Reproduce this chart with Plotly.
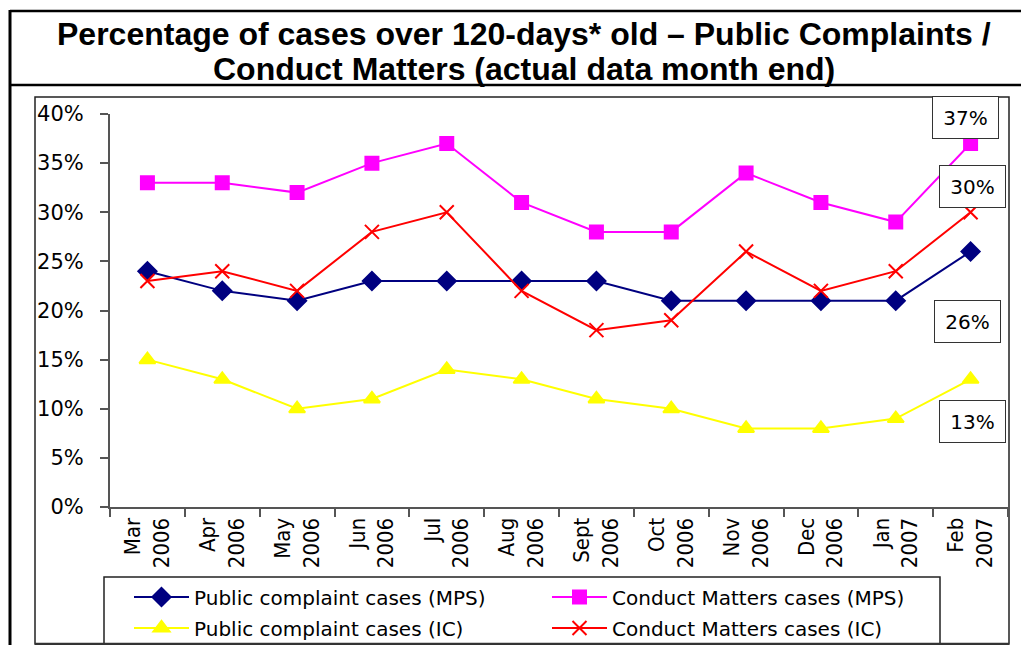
import plotly.graph_objects as go

months = ['Mar<br>2006', 'Apr<br>2006', 'May<br>2006', 'Jun<br>2006', 'Jul<br>2006', 'Aug<br>2006',
          'Sept<br>2006', 'Oct<br>2006', 'Nov<br>2006', 'Dec<br>2006', 'Jan<br>2007', 'Feb<br>2007']

pc_mps = [24, 22, 21, 23, 23, 23, 23, 21, 21, 21, 21, 26]
cm_mps = [33, 33, 32, 35, 37, 31, 28, 28, 34, 31, 29, 37]
pc_ic = [15, 13, 10, 11, 14, 13, 11, 10, 8, 8, 9, 13]
cm_ic = [23, 24, 22, 28, 30, 22, 18, 19, 26, 22, 24, 30]

# page body has an 8px margin; size the figure so the page fits the window exactly
OFF = 8
W, H = 1029 - 2 * OFF, 653 - 2 * OFF
L, R, T, B = 110, 1008, 114, 507  # plot area, in page pixels


def px(x):
    return (x - L) / (R - L)


def py(y):
    return (B - y) / (B - T)


def cx(x):
    return (x - OFF) / W


def cy(y):
    return 1 - (y - OFF) / H


FONT = 'DejaVu Sans'

fig = go.Figure()
series = [
    ('Public complaint cases (MPS)', pc_mps, '#000080', 'diamond', 14, 'legend'),
    ('Conduct Matters cases (MPS)', cm_mps, '#FF00FF', 'square', 13, 'legend'),
    ('Public complaint cases (IC)', pc_ic, '#FFFF00', 'triangle-up', 14, 'legend2'),
    ('Conduct Matters cases (IC)', cm_ic, '#FF0000', 'x-thin', 14, 'legend2'),
]
for name, vals, col, sym, size, leg in series:
    fig.add_trace(go.Scatter(
        x=months, y=vals, name=name, mode='lines+markers', legend=leg,
        line=dict(color=col, width=2),
        marker=dict(symbol=sym, size=size, color=col, line=dict(color=col, width=2))))

# boxed labels for the last values
label_pos = [(965.5, 117.5, cm_mps[-1]), (972, 186, cm_ic[-1]),
             (967.5, 321.5, pc_mps[-1]), (972, 421.5, pc_ic[-1])]
for x, y, v in label_pos:
    fig.add_annotation(x=px(x), y=py(y), xref='paper', yref='paper', text=f'{v}%',
                       xanchor='center', yanchor='middle', showarrow=False,
                       width=53, height=29, font=dict(family=FONT, size=20, color='black'),
                       bgcolor='white', bordercolor='#333', borderwidth=1, borderpad=6)

# title, one annotation per line
title_lines = ['Percentage of cases over 120-days* old – Public Complaints /',
               'Conduct Matters (actual data month end)']
for y, t in zip([34, 69], title_lines):
    fig.add_annotation(x=px(524), y=py(y), xref='paper', yref='paper', showarrow=False,
                       xanchor='center', yanchor='middle', text=f'<b>{t}</b>',
                       font=dict(family='Liberation Sans', size=32, color='black'))

# frames
fig.add_shape(type='line', xref='paper', yref='paper', x0=px(10), x1=px(1040), y0=py(11), y1=py(11),
              line=dict(color='black', width=2.5))
fig.add_shape(type='line', xref='paper', yref='paper', x0=px(10), x1=px(1040), y0=py(85), y1=py(85),
              line=dict(color='black', width=2.5))
fig.add_shape(type='line', xref='paper', yref='paper', x0=px(10), x1=px(10), y0=py(10), y1=py(670),
              line=dict(color='black', width=3))
fig.add_shape(type='rect', xref='paper', yref='paper', layer='below', x0=px(35), x1=px(1009),
              y0=py(97), y1=py(644), line=dict(color='#222', width=1.5))
fig.add_shape(type='line', xref='paper', yref='paper', x0=px(35), x1=px(1009), y0=py(644), y1=py(644),
              line=dict(color='#333', width=2.5))
# legend box
fig.add_shape(type='rect', xref='paper', yref='paper', layer='below', x0=px(104), x1=px(940),
              y0=py(577), y1=py(644), line=dict(color='#222', width=1.5), fillcolor='white')

legend_common = dict(orientation='h', xref='container', yref='container',
                     xanchor='left', yanchor='middle', borderwidth=0,
                     bgcolor='rgba(0,0,0,0)', entrywidth=348, itemwidth=55,
                     font=dict(family=FONT, size=20, color='black'))

fig.update_layout(
    width=W, height=H, margin=dict(l=L - OFF, r=W + OFF - R, t=T - OFF, b=H + OFF - B),
    paper_bgcolor='white', plot_bgcolor='white',
    font=dict(family=FONT, color='black'),
    xaxis=dict(type='category', tickangle=-90, tickson='boundaries', ticks='outside', ticklen=8,
               tickcolor='#555', tickwidth=1.5, linecolor='#555', linewidth=2, showgrid=False,
               automargin=False,
               tickfont=dict(family='Liberation Sans Narrow, DejaVu Sans Condensed, DejaVu Sans', size=22),
               range=[-0.5, 11.5]),
    yaxis=dict(range=[0, 40], dtick=5, ticksuffix='%', ticks='outside', ticklen=8, tickcolor='#555',
               tickwidth=1.5, linecolor='#555', linewidth=2, showgrid=False, zeroline=False,
               automargin=False, ticklabelstandoff=12, tickfont=dict(size=21)),
    legend=dict(x=cx(129), y=cy(597), **legend_common),
    legend2=dict(x=cx(129), y=cy(628), **legend_common),
)

fig.write_html('out.html')
